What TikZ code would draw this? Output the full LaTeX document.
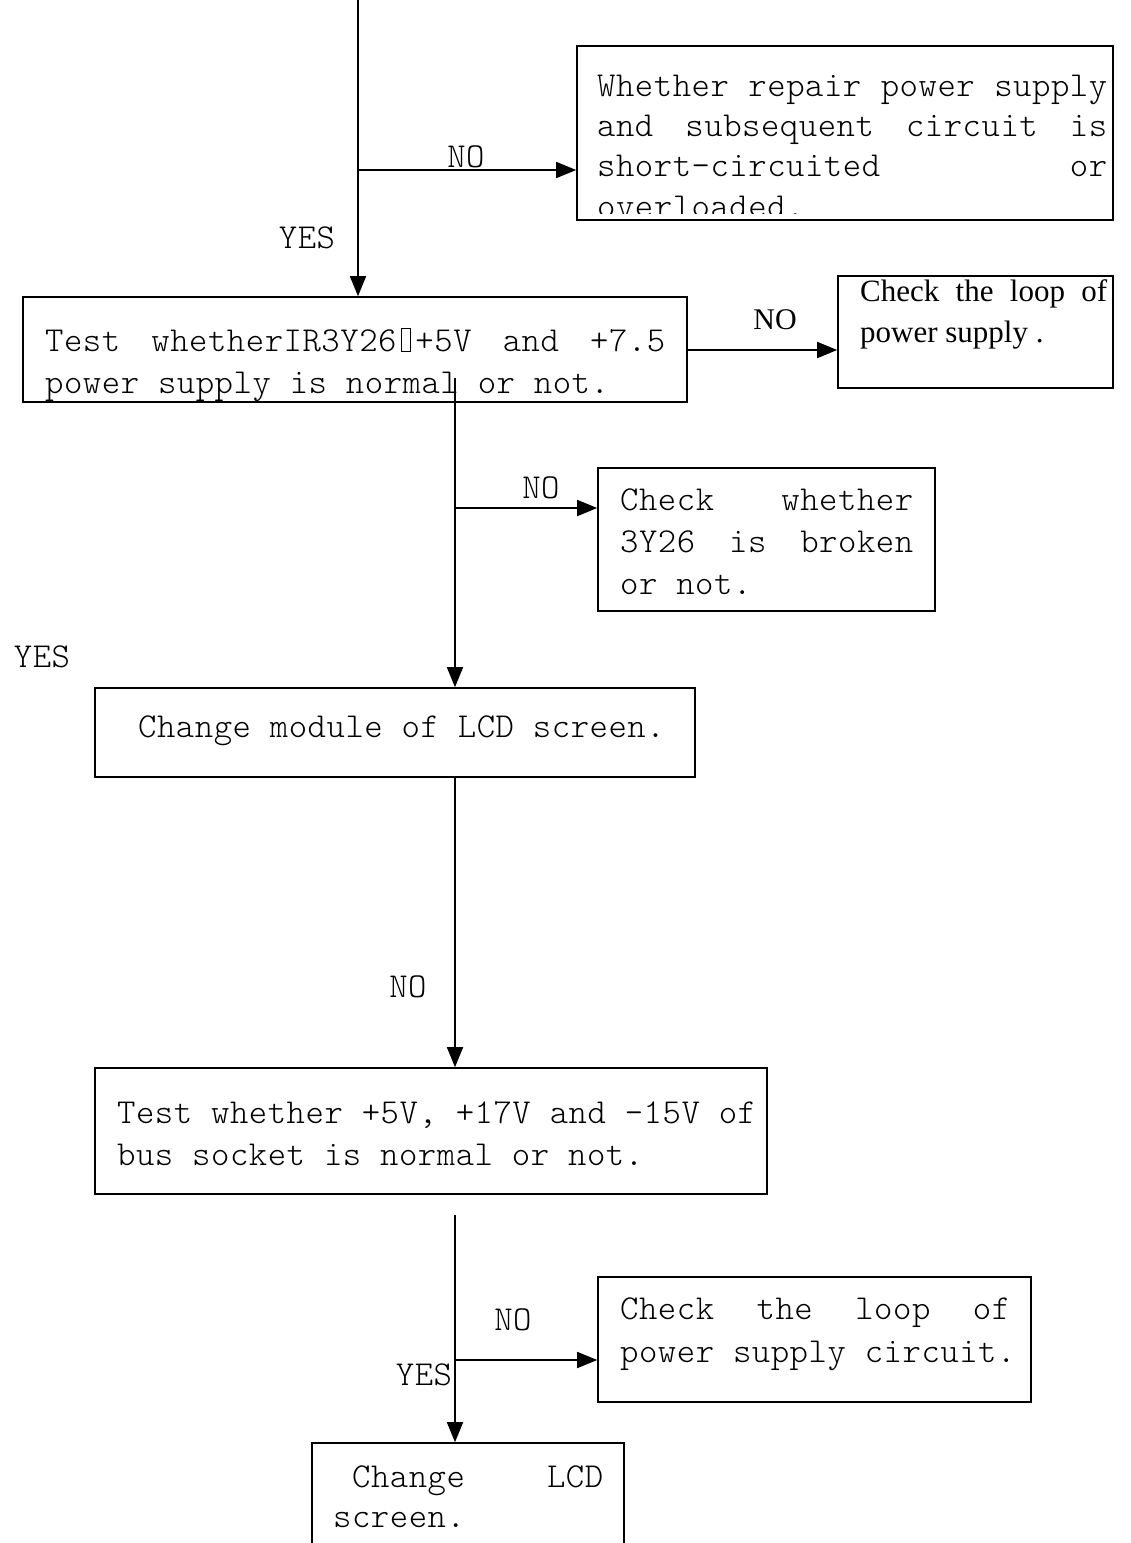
\documentclass[tikz,border=0pt]{standalone}
\usepackage{fontspec}
\setmonofont[LetterSpace=1.5]{Latin Modern Mono Light}
\newfontfamily\tmsfont{Liberation Serif}
\usetikzlibrary{arrows.meta,fit}
\newcommand{\tofu}{\makebox[0.54em]{{\fboxsep=0pt\fboxrule=0.8pt\fbox{\rule{0pt}{0.64em}\hspace{0.25em}}}}}
\begin{document}
\begin{tikzpicture}[x=1pt,y=-1pt,
  box/.style={draw,line width=1.6pt,inner sep=0pt},
  conn/.style={line width=1.6pt,-{Triangle[length=20pt,width=16pt]}},
  plain/.style={line width=1.6pt},
  mono/.style={font=\fontsize{35}{40}\selectfont\ttfamily,inner sep=0pt,anchor=base west},
  serif/.style={font=\fontsize{31}{40}\selectfont\tmsfont,inner sep=0pt,anchor=base west},
  lab/.style={font=\fontsize{35}{40}\selectfont\ttfamily,inner sep=0pt},
  slab/.style={font=\fontsize{30}{40}\selectfont\tmsfont,inner sep=0pt}]
\clip (0,0) rectangle (1131,1543);
% boxes
\node[box,fit={(577,46)(1113,220)}] (A) {};
\node[box,fit={(23,297)(687,402)}] (B) {};
\node[box,fit={(838,276)(1113,388)}] (C) {};
\node[box,fit={(598,468)(935,611)}] (E) {};
\node[box,fit={(95,688)(695,777)}] (D) {};
\node[box,fit={(95,1068)(767,1194)}] (F) {};
\node[box,fit={(598,1277)(1031,1402)}] (G) {};
\node[box,fit={(312,1443)(624,1570)}] (H) {};
% texts
\begin{scope}
\clip (578,47) rectangle (1112,213);
\node[mono] (ta1) at (597,96) {\makebox[510pt][l]{Whether\hfill repair\hfill power\hfill supply}};
\node[mono] (ta2) at (597,136) {\makebox[510pt][l]{and\hfill subsequent\hfill circuit\hfill is}};
\node[mono] (ta3) at (597,176) {\makebox[510pt][l]{short-circuited\hfill or}};
\node[mono] (ta4) at (597,217) {overloaded.};
\end{scope}
\node[mono] (tb1) at (45,351) {\makebox[620pt][l]{Test\hfill whetherIR3Y26\tofu+5V\hfill and\hfill +7.5}};
\node[mono] (tb2) at (45,393) {power supply is normal or not.};
\node[serif] (tc1) at (860,301) {\makebox[247pt][l]{Check\hfill the\hfill loop\hfill of}};
\node[serif] (tc2) at (860,342) {power supply .};
\node[mono] (te1) at (620,510) {\makebox[293pt][l]{Check\hfill whether}};
\node[mono] (te2) at (620,552) {\makebox[293pt][l]{3Y26\hfill is\hfill broken}};
\node[mono] (te3) at (620,594) {or not.};
\node[mono] (td1) at (138,737) {Change module of LCD screen.};
\node[mono] (tf1) at (117,1123) {Test whether +5V, +17V and –15V of};
\node[mono] (tf2) at (117,1165) {bus socket is normal or not.};
\node[mono] (tg1) at (620,1319) {\makebox[390pt][l]{Check\hfill the\hfill loop\hfill of}};
\node[mono] (tg2) at (620,1362) {power supply circuit.};
\node[mono] (th1) at (333,1487) {\makebox[270pt][l]{\hspace{0.54em}Change\hfill LCD}};
\node[mono] (th2) at (333,1527) {screen.};
% connectors
\coordinate (top) at (358,0);
\coordinate (j1) at (358,170);
\draw[plain] (top) -- (j1);
\draw[conn] (j1) -- (A.west |- j1);
\draw[conn] (j1) -- (B.north -| j1);
\coordinate (bc) at (687,350);
\draw[conn] (bc) -- (C.west |- bc);
\coordinate (s2) at (455,378);
\coordinate (j2) at (455,508);
\draw[plain] (s2) -- (j2);
\draw[conn] (j2) -- (E.west |- j2);
\draw[conn] (j2) -- (D.north -| j2);
\draw[conn] (D.south -| j2) -- (F.north -| j2);
\coordinate (s4) at (455,1215);
\coordinate (j4) at (455,1360);
\draw[plain] (s4) -- (j4);
\draw[conn] (j4) -- (G.west |- j4);
\draw[conn] (j4) -- (H.north -| j4);
% labels
\node[lab] (l1) at (466,157) {NO};
\node[lab] (l2) at (307,238) {YES};
\node[slab] (l3) at (775,320) {NO};
\node[lab] (l4) at (541,488) {NO};
\node[lab] (l5) at (42,657) {YES};
\node[lab] (l6) at (408,987) {NO};
\node[lab] (l7) at (513,1320) {NO};
\node[lab] (l8) at (424,1375) {YES};
\end{tikzpicture}
\end{document}
